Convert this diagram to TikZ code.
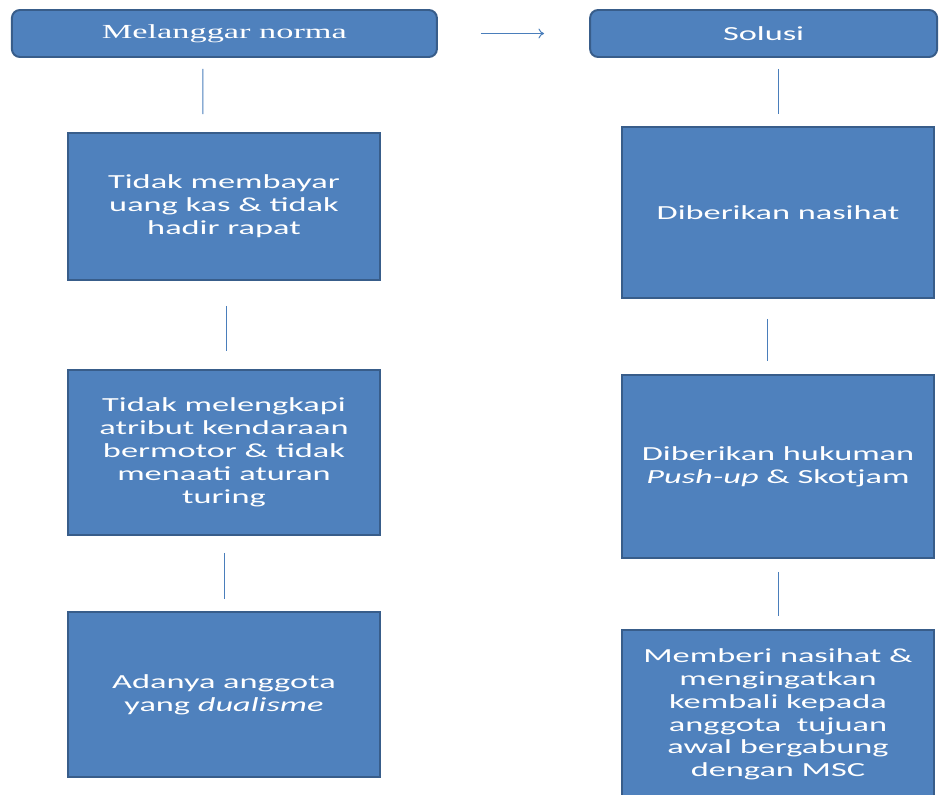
\documentclass[tikz,border=0pt]{standalone}
\usepackage{fontspec}
\usepackage{tikz}
\usetikzlibrary{shapes,arrows.meta}
\setmainfont{Carlito}[FakeStretch=1.72]
\newfontfamily\headserif{Liberation Serif}[FakeStretch=1.72]
\definecolor{boxfill}{HTML}{4F81BD}
\definecolor{boxline}{HTML}{385D8A}
\definecolor{linkline}{HTML}{4A7EBB}

\begin{document}
\begin{tikzpicture}[
	head/.style={draw=boxline, line width=1.4pt, fill=boxfill, rounded corners=0.2cm, text=white, minimum height=1.175cm, inner sep=0pt, font=\fontsize{14.2}{16.3}\selectfont},
	block/.style={draw=boxline, line width=1.4pt, fill=boxfill, text=white, minimum width=7.8cm, align=center, inner sep=0pt, font=\fontsize{14.2}{16.3}\selectfont},
	link/.style={draw=linkline, line width=0.7pt}]
			\useasboundingbox (0,0) rectangle (23.55,-19.85);
			\node[head, minimum width=10.625cm] (lmain) at (5.61,-0.8375) {\headserif\raisebox{-1pt}{Melanggar norma}};
			\node[head, minimum width=8.675cm] (rmain) at (19.09,-0.8375) {Solusi};
			\node[block, minimum height=3.675cm] (lb1) at (5.6,-5.1625) {Tidak membayar\\uang kas \& tidak\\hadir rapat};
			\node[block, minimum height=4.125cm] (lb2) at (5.6,-11.3125) {Tidak melengkapi\\atribut kendaraan\\bermotor \& tidak\\menaati aturan\\turing};
			\node[block, minimum height=4.125cm] (lb3) at (5.6,-17.3625) {Adanya anggota\\yang \textit{dualisme}};
			\node[block, minimum height=4.275cm] (rb1) at (19.45,-5.3125) {Diberikan nasihat};
			\node[block, minimum height=4.575cm] (rb2) at (19.45,-11.6625) {Diberikan hukuman\\\textit{Push-up} \& Skotjam};
			\node[block, minimum height=4.25cm] (rb3) at (19.45,-17.875) {\raisebox{0.2cm}{\begin{tabular}{@{}c@{}}Memberi nasihat \&\\mengingatkan\\kembali kepada\\anggota\ \ tujuan\\awal bergabung\\dengan MSC\end{tabular}}};
			\draw[link, -{To[length=4pt,width=7pt]}, shorten <=1.075cm, shorten >=1.125cm] (lmain.east) -- (rmain.west);
			\draw[link, shorten <=0.275cm, shorten >=0.45cm] ([xshift=-0.54cm]lmain.south) -- ([xshift=-0.53cm]lb1.north);
			\draw[link, shorten <=0.625cm, shorten >=0.45cm] ([xshift=0.05cm]lb1.south) -- ([xshift=0.05cm]lb2.north);
			\draw[link, shorten <=0.425cm, shorten >=0.3cm] (lb2.south) -- (lb3.north);
			\draw[link, shorten <=0.275cm, shorten >=0.3cm] (rb1.north |- rmain.south) -- (rb1.north);
			\draw[link, shorten <=0.5cm, shorten >=0.325cm] ([xshift=-0.275cm]rb1.south) -- ([xshift=-0.275cm]rb2.north);
			\draw[link, shorten <=0.325cm, shorten >=0.325cm] (rb2.south) -- (rb3.north);
		\end{tikzpicture}
\end{document}
